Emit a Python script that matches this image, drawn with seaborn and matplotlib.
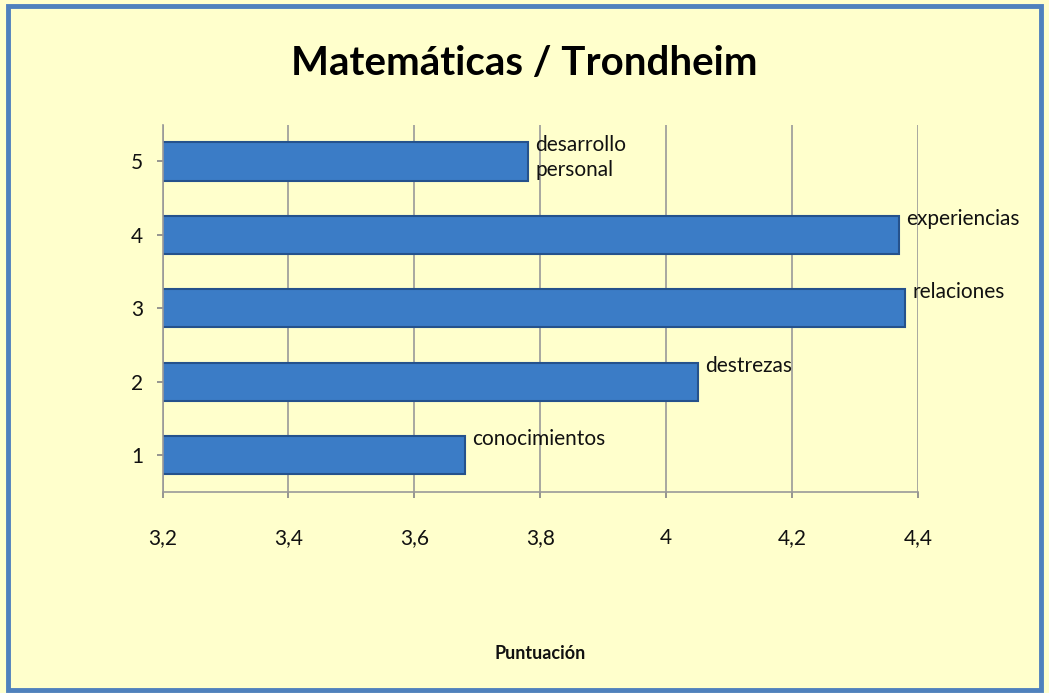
import matplotlib
matplotlib.use("Agg")
import matplotlib.pyplot as plt
import seaborn as sns
import pandas as pd
from matplotlib.patches import Rectangle

categories = ["5", "4", "3", "2", "1"]
values = [3.78, 4.37, 4.38, 4.05, 3.68]
bar_labels = ["desarrollo\npersonal", "experiencias", "relaciones", "destrezas", "conocimientos"]
x_ticks = [3.2, 3.4, 3.6, 3.8, 4.0, 4.2, 4.4]
x_tick_labels = ["3,2", "3,4", "3,6", "3,8", "4", "4,2", "4,4"]

sns.set_theme(style="white")
plt.rcParams["font.family"] = ["Lato", "DejaVu Sans"]

bg = "#FFFFCC"
fig = plt.figure(figsize=(10.49, 6.93), dpi=100, facecolor=bg)
ax = fig.add_axes([0.155, 0.29, 0.72, 0.53], facecolor=bg)

df = pd.DataFrame({"cat": categories, "val": values})
sns.barplot(data=df, y="cat", x="val", order=categories, orient="h",
            color="#3B7CC6", edgecolor="#25528C", linewidth=1.5,
            width=0.52, ax=ax, saturation=1)

ax.set_xlim(3.2, 4.4)
ax.set_xticks(x_ticks)
ax.set_xticklabels(x_tick_labels, fontsize=15, color="#111111")
ax.tick_params(axis="y", labelsize=15, length=4, color="#888888", left=True,
               labelcolor="#111111", pad=10)
ax.tick_params(axis="x", length=4, color="#888888", bottom=True, pad=22)
ax.xaxis.grid(True, color="#999999", linewidth=1.2)
ax.set_axisbelow(True)
for s in ["top", "right"]:
    ax.spines[s].set_visible(False)
for s in ["left", "bottom"]:
    ax.spines[s].set_color("#999999")
    ax.spines[s].set_linewidth(1.2)
ax.set_ylabel("")
ax.set_xlabel("Puntuación", fontsize=13, fontweight="bold", labelpad=70, color="#111111")

for i, (v, lab) in enumerate(zip(values, bar_labels)):
    ax.text(v + 0.012, i - (0.05 if "\n" in lab else 0.22), lab, fontsize=15,
            va="center", ha="left", color="#111111", linespacing=1.3)

fig.suptitle("Matemáticas / Trondheim", fontsize=29, fontweight="bold", y=0.935, color="#000000")

fig.patches.append(Rectangle((0.008, 0.004), 0.984, 0.988, transform=fig.transFigure,
                             fill=False, edgecolor="#4F81BD", linewidth=3.5))

fig.savefig("out.png", dpi=100, facecolor=bg)
